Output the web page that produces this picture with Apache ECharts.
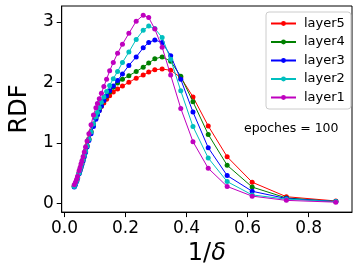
<!DOCTYPE html>
<html>
<head>
<meta charset="utf-8">
<script src="https://cdn.jsdelivr.net/npm/echarts@6/dist/echarts.min.js"></script>
<style>
html,body{margin:0;padding:0;background:#fff;}
#chart{width:359px;height:271px;}
</style>
</head>
<body>
<div id="chart"></div>
<script>
// x values (1/delta)
const xValues = [0.032,0.036,0.040,0.043,0.048,0.051,0.054,0.057,0.061,0.065,0.069,0.074,0.080,0.087,0.095,0.103,0.108,0.114,0.121,0.129,0.138,0.148,0.160,0.174,0.190,0.211,0.235,0.258,0.276,0.296,0.320,0.348,0.381,0.421,0.471,0.533,0.615,0.727,0.889];

const layer5 = [0.29,0.33,0.38,0.43,0.51,0.56,0.61,0.66,0.73,0.80,0.87,0.96,1.07,1.19,1.31,1.42,1.48,1.54,1.60,1.66,1.72,1.78,1.84,1.89,1.94,2.00,2.07,2.12,2.17,2.21,2.22,2.20,2.08,1.76,1.28,0.77,0.35,0.11,0.04];
const layer4 = [0.28,0.32,0.37,0.42,0.50,0.55,0.60,0.65,0.72,0.79,0.86,0.95,1.06,1.18,1.30,1.41,1.48,1.55,1.62,1.70,1.77,1.84,1.92,1.99,2.05,2.11,2.18,2.25,2.32,2.39,2.42,2.35,2.10,1.68,1.14,0.63,0.27,0.09,0.03];
const layer3 = [0.27,0.31,0.36,0.41,0.49,0.54,0.59,0.64,0.70,0.77,0.84,0.93,1.04,1.15,1.27,1.39,1.46,1.53,1.61,1.70,1.78,1.86,1.94,2.03,2.14,2.28,2.42,2.57,2.66,2.70,2.66,2.44,2.05,1.51,0.92,0.46,0.20,0.08,0.03];
const layer2 = [0.28,0.32,0.37,0.42,0.50,0.55,0.60,0.66,0.72,0.79,0.86,0.95,1.06,1.18,1.31,1.43,1.50,1.58,1.67,1.76,1.85,1.95,2.06,2.18,2.33,2.50,2.71,2.86,2.93,2.89,2.74,2.38,1.86,1.27,0.75,0.36,0.14,0.07,0.03];
const layer1 = [0.31,0.35,0.40,0.45,0.54,0.59,0.65,0.70,0.77,0.85,0.93,1.03,1.15,1.30,1.46,1.58,1.65,1.73,1.82,1.93,2.05,2.19,2.33,2.48,2.63,2.81,3.01,3.11,3.07,2.88,2.58,2.12,1.57,1.02,0.58,0.28,0.12,0.05,0.02];

const xTicks = [0.0,0.2,0.4,0.6,0.8];
const yTicks = [0,1,2,3];
const seriesNames = ['layer5','layer4','layer3','layer2','layer1'];
const seriesData = [layer5, layer4, layer3, layer2, layer1];
const seriesColors = ['#ff0000','#008000','#0000ff','#00bfbf','#bf00bf'];
const annotation = {text:'epoches = 100', x:0.588, y:1.23};

const chart = echarts.init(document.getElementById('chart'), null, {renderer:'canvas'});
const FONT = 'DejaVu Sans';

const series = seriesNames.map((name, i) => ({
  name: name,
  type: 'line',
  data: xValues.map((x, j) => [x, seriesData[i][j]]),
  symbol: 'circle',
  symbolSize: 5,
  showSymbol: true,
  lineStyle: {width: 1, color: seriesColors[i]},
  itemStyle: {color: seriesColors[i]},
  animation: false,
  z: 2 + i
}));

chart.setOption({
  animation: false,
  backgroundColor: '#fff',
  textStyle: {fontFamily: FONT},
  grid: {left: 51, right: 7, top: 6, bottom: 57, show: true, borderColor: '#000', borderWidth: 1, backgroundColor: 'transparent'},
  xAxis: {
    type: 'value', min: -0.009, max: 0.942,
    name: '{a|1/}{b|δ}', nameLocation: 'middle', nameGap: 25,
    nameTextStyle: {rich: {a: {fontSize: 24, fontFamily: FONT, color: '#000'}, b: {fontSize: 24, fontFamily: FONT, fontStyle: 'italic', color: '#000'}}},
    axisLine: {show: true, onZero: false, lineStyle: {color: '#000', width: 1}},
    axisTick: {show: true, inside: false, length: 5, lineStyle: {color: '#000'}, customValues: xTicks},
    axisLabel: {show: true, margin: 8, fontSize: 17, color: '#000', fontFamily: FONT, customValues: xTicks, formatter: v => v.toFixed(1)},
    splitLine: {show: false}
  },
  yAxis: {
    type: 'value', min: -0.144, max: 3.262,
    name: 'RDF', nameLocation: 'middle', nameGap: 23,
    nameTextStyle: {fontSize: 24, color: '#000', fontFamily: FONT},
    axisLine: {show: true, onZero: false, lineStyle: {color: '#000', width: 1}},
    axisTick: {show: true, inside: false, length: 5, lineStyle: {color: '#000'}, customValues: yTicks},
    axisLabel: {show: true, margin: 8, fontSize: 17, color: '#000', fontFamily: FONT, customValues: yTicks, formatter: v => String(v)},
    splitLine: {show: false}
  },
  legend: {
    orient: 'vertical', left: 266, top: 12,
    data: seriesNames,
    itemWidth: 25, itemHeight: 6, itemGap: 5.5,
    padding: [5, 6, 5, 4],
    backgroundColor: 'rgba(255,255,255,0.8)', borderColor: '#cccccc', borderWidth: 1, borderRadius: 3,
    textStyle: {fontSize: 13, color: '#000', fontFamily: FONT, padding: [0,0,0,3]}
  },
  series: series
});

const p = chart.convertToPixel({gridIndex: 0}, [annotation.x, annotation.y]);
chart.setOption({
  graphic: [{
    type: 'text', left: p[0], top: p[1] - 7,
    style: {text: annotation.text, fontSize: 12.5, fontFamily: FONT, fill: '#000'},
    z: 100
  }]
});
</script>
</body>
</html>
